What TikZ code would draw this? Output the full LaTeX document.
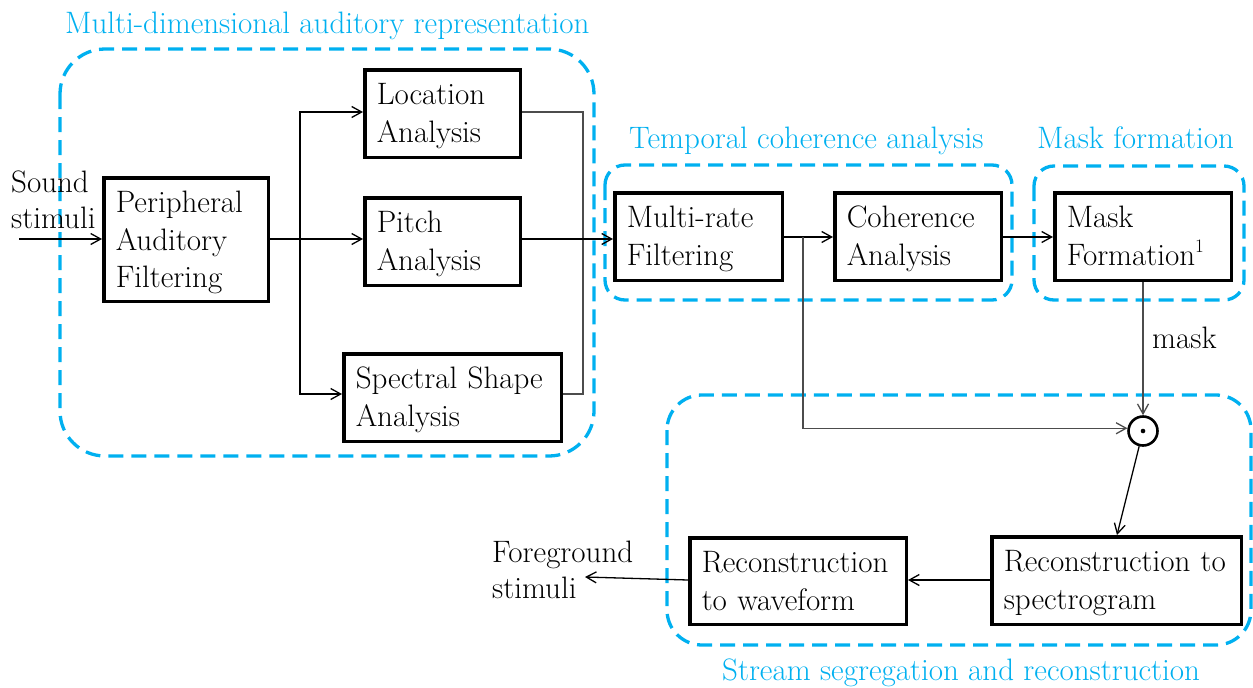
\documentclass[tikz,border=0pt]{standalone}
\usepackage{fontspec}
\newcommand\lserif{\rmfamily}
\usetikzlibrary{arrows.meta,calc}
\definecolor{cblue}{RGB}{0,176,240}
\newcommand\supone{\raisebox{0.42em}{\fontsize{19}{19}\selectfont 1}}
\begin{document}
\begin{tikzpicture}[x=1pt,y=-1pt, font=\fontsize{31}{37.5}\selectfont,
  box/.style={draw, line width=3.5pt, align=left, inner xsep=12pt, inner ysep=0pt, anchor=north west, text height=35pt},
  grp/.style={draw=cblue, line width=3.3pt, dash pattern=on 15pt off 8pt},
  ttl/.style={text=cblue, anchor=base west, inner sep=0pt},
  lbl/.style={anchor=base west, inner sep=0pt, align=left},
  con/.style={line width=1.3pt},
  gcon/.style={con, black!70},
  tip/.style={-{Straight Barb[length=10pt,width=11pt,line width=1.3pt]}},
  arr/.style={con, tip}]
\useasboundingbox (0,0) rectangle (1253,688);
% groups
\draw[grp, rounded corners=45pt] (60,49) rectangle (594,456);
\draw[grp, rounded corners=20pt] (605,165) rectangle (1012,300);
\draw[grp, rounded corners=20pt] (1034,166) rectangle (1244,300);
\draw[grp, rounded corners=35pt] (667,395) rectangle (1251,645);
% titles
\node[ttl] (t1) at (65,33) {\lserif Multi-dimensional auditory representation};
\node[ttl] (t2) at (629,148) {\lserif Temporal coherence analysis};
\node[ttl] (t3) at (1037,148) {\lserif Mask formation};
\node[ttl] (t4) at (722,680) {\lserif Stream segregation and reconstruction};
% boxes
\node[box, minimum width=164.5pt, text width=140.5pt, text depth=88.5pt] (per) at (102,176) {\lserif Peripheral\\\lserif Auditory\\\lserif Filtering};
\node[box, minimum width=155.5pt, text width=131.5pt, text depth=52.5pt] (loc) at (363,68) {\lserif Location\\\lserif Analysis};
\node[box, minimum width=155.5pt, text width=131.5pt, text depth=52.5pt] (pit) at (363,196) {\lserif Pitch\\\lserif Analysis};
\node[box, minimum width=217.5pt, text width=193.5pt, text depth=52.5pt] (spe) at (342,352) {\lserif\mbox{Spectral Shape}\\\lserif Analysis};
\node[box, minimum width=167.5pt, text width=143.5pt, text depth=52.5pt] (mr) at (613,191) {\lserif Multi-rate\\\lserif Filtering};
\node[box, minimum width=166.5pt, text width=142.5pt, text depth=52.5pt] (coh) at (833,191) {\lserif Coherence\\\lserif Analysis};
\node[box, minimum width=176.5pt, text width=152.5pt, text depth=52.5pt] (mf) at (1053,191) {\lserif Mask\\\lserif Formation\supone};
\node[box, minimum width=249.5pt, text width=225.5pt, text depth=52.5pt] (rs) at (990,535) {\lserif\mbox{Reconstruction to}\\\lserif spectrogram};
\node[box, minimum width=216.5pt, text width=192.5pt, text depth=51.5pt] (rw) at (688,536) {\lserif\mbox{Reconstruction}\\\lserif\mbox{to waveform}};
% multiply node
\node[circle, draw, line width=2.6pt, minimum size=29pt, inner sep=0pt] (mul) at (1143,431) {};
\fill (mul.center) circle (2.3pt);
% labels
\node[lbl, font=\fontsize{31}{36}\selectfont] (snd) at (11,228) {\lserif Sound\\\lserif stimuli};
\node[lbl, font=\fontsize{31}{36}\selectfont] (fg) at (492,598) {\lserif Foreground\\\lserif stimuli};
\node[lbl] (mk) at (1152,348) {\lserif mask};
% coordinates
\coordinate (sin) at (19,239);
\coordinate (sp) at (300,239);
\coordinate (rj) at (583,239);
\coordinate (br) at (803,237);
\coordinate (rsin) at (1117,535);
\coordinate (fout) at (585,577);
% connectors
\draw[arr] (sin) -- (per.west |- sin);
\draw[con] (per.east |- sp) -- (sp);
\draw[arr] (sp) |- (loc.west |- 0,112);
\draw[arr] (sp) -- (pit.west |- sp);
\draw[arr] (sp) |- (spe.west |- 0,394);
\draw[gcon] (loc.east |- 0,112) -| (rj) |- (spe.east |- 0,394);
\draw[arr] (pit.east |- rj) -- (mr.west |- rj);
\draw[arr] (mr.east |- br) -- (coh.west |- br);
\draw[gcon, tip] (br) |- (mul.170);
\draw[arr] (coh.east |- br) -- (mf.west |- br);
\draw[gcon, tip] (mf.south -| mul) -- (mul.north);
\draw[arr] (mul) -- (rsin);
\draw[arr] (rs.west |- 0,580) -- (rw.east |- 0,580);
\draw[arr] (rw.west |- 0,580) -- (fout);
\end{tikzpicture}
\end{document}
